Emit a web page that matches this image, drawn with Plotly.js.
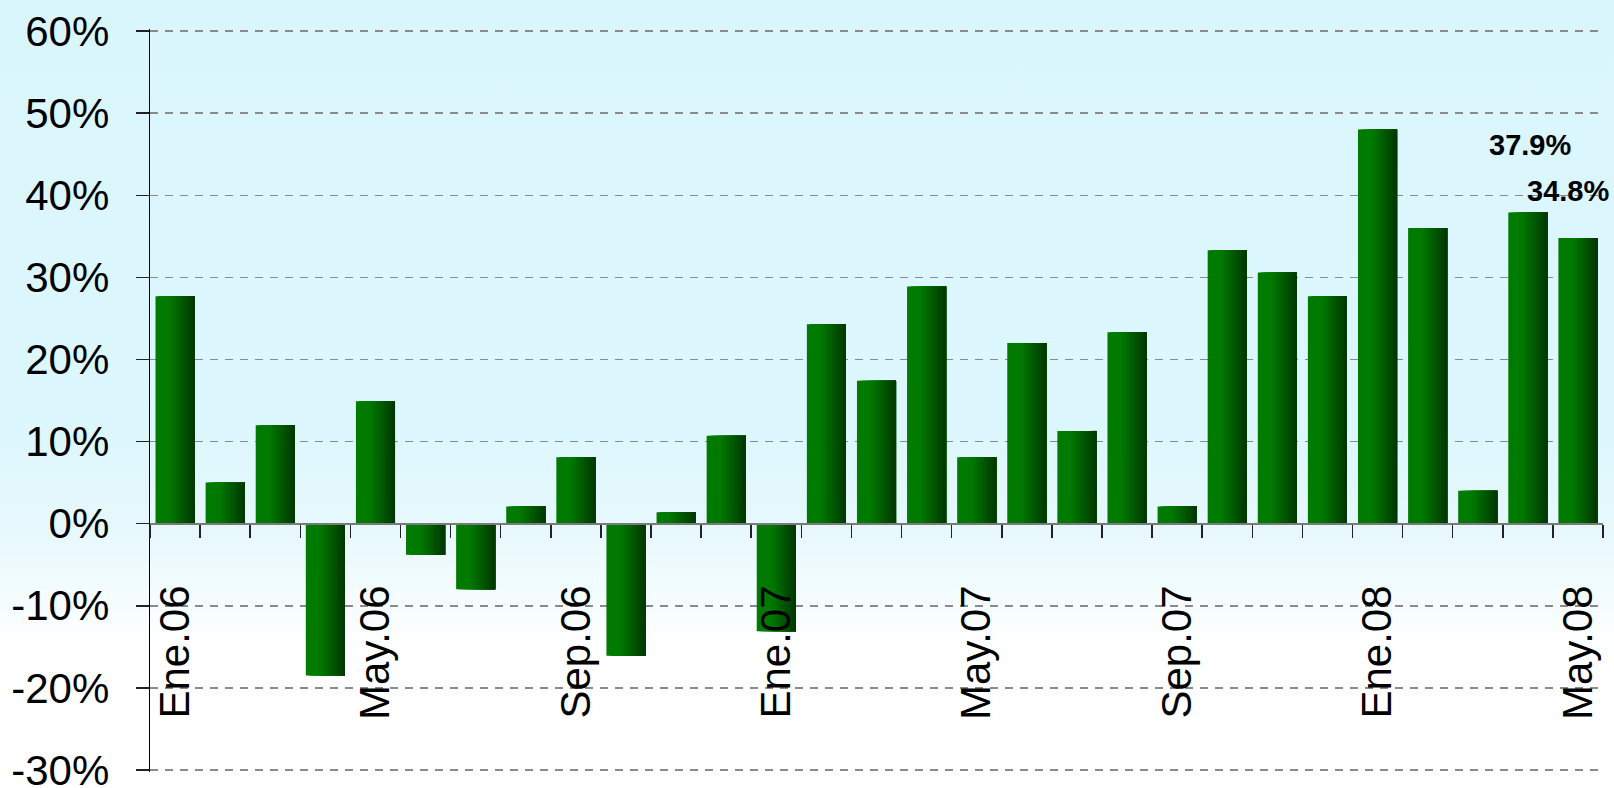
<!DOCTYPE html>
<html>
<head>
<meta charset="utf-8">
<script src="https://cdn.plot.ly/plotly-3.0.1.min.js"></script>
<style>
  html, body { margin: 0; padding: 0; }
  body {
    width: 1614px; height: 788px; overflow: hidden;
    background: linear-gradient(to bottom, #daf6fd 0px, #dcf7fd 430px, #e6f8fd 525px, #f3fcfe 590px, #ffffff 650px, #ffffff 788px);
  }
  #chart { width: 1614px; height: 788px; }
</style>
</head>
<body>
<div id="chart"></div>
<script>
// ---- data ----
const categories = [
  'Ene.06','Feb.06','Mar.06','Abr.06','May.06','Jun.06','Jul.06','Ago.06','Sep.06','Oct.06','Nov.06','Dic.06',
  'Ene.07','Feb.07','Mar.07','Abr.07','May.07','Jun.07','Jul.07','Ago.07','Sep.07','Oct.07','Nov.07','Dic.07',
  'Ene.08','Feb.08','Mar.08','Abr.08','May.08'
];
const values = [
  27.7, 5.0, 12.0, -18.5, 14.9, -3.8, -8.0, 2.1, 8.1, -16.1, 1.4, 10.7,
  -13.1, 24.3, 17.4, 28.9, 8.1, 22.0, 11.3, 23.3, 2.1, 33.3, 30.6, 27.7,
  48.0, 36.0, 4.0, 37.9, 34.8
];
const tickLabels = ['Ene.06','May.06','Sep.06','Ene.07','May.07','Sep.07','Ene.08','May.08'];
const yTicks = [-30, -20, -10, 0, 10, 20, 30, 40, 50, 60];
const labeledIdx = [27, 28];

// ---- styling ----
const yMin = -30.25, yMax = 60.25;
const barW = 0.78;
const N = 14;
function lerp(a, b, t) { return Math.round(a + (b - a) * t); }
function stripColor(t) {
  const c0 = [0, 122, 0], c1 = [0, 54, 0];
  let u = t < 0.35 ? 0 : (t - 0.35) / 0.65;
  return 'rgb(' + lerp(c0[0], c1[0], u) + ',' + lerp(c0[1], c1[1], u) + ',' + lerp(c0[2], c1[2], u) + ')';
}

const traces = [];
for (let i = 0; i < N; i++) {
  const start = -barW / 2 + i * barW / N;
  traces.push({
    type: 'bar',
    x: categories,
    y: values,
    offset: start,
    width: barW / 2 - start,
    marker: { color: stripColor((i + 0.5) / N), line: { width: 0 } },
    hoverinfo: i === 0 ? 'x+y' : 'skip',
    showlegend: false
  });
}

const font = 'Liberation Sans, Arial, sans-serif';

const annotations = labeledIdx.map((k, j) => ({
  x: categories[k],
  y: values[k],
  xref: 'x', yref: 'y',
  text: '<b>' + values[k].toFixed(1) + '%</b>',
  showarrow: false,
  xanchor: 'center', yanchor: 'middle',
  yshift: j === 0 ? 67 : 47,
  xshift: j === 0 ? 2 : -10,
  font: { family: font, size: 29, color: '#000' }
}));

const layout = {
  width: 1614, height: 788,
  margin: { l: 150, r: 11, t: 29, b: 16, pad: 0 },
  paper_bgcolor: 'rgba(0,0,0,0)',
  plot_bgcolor: 'rgba(0,0,0,0)',
  barmode: 'overlay',
  showlegend: false,
  font: { family: font, color: '#000' },
  xaxis: {
    type: 'category',
    range: [-0.5, categories.length - 0.5],
    anchor: 'free',
    position: (0 - yMin) / (yMax - yMin),
    showgrid: false,
    zeroline: false,
    showline: true,
    linecolor: '#7a7a7a',
    linewidth: 2,
    ticks: 'outside',
    tickson: 'boundaries',
    ticklen: 13,
    tickwidth: 1.5,
    tickcolor: '#222',
    tickvals: categories,
    ticktext: categories.map(c => tickLabels.includes(c) ? c : ''),
    tickangle: -90,
    ticklabelstandoff: 44,
    ticklabeloverflow: 'allow',
    tickfont: { family: font, size: 42, color: '#000' },
    automargin: false,
    fixedrange: true
  },
  yaxis: {
    range: [yMin, yMax],
    tickvals: yTicks,
    ticktext: yTicks.map(v => v + '%'),
    showgrid: true,
    gridcolor: '#8a8a8a',
    gridwidth: 1.5,
    griddash: '8px,7px',
    zeroline: false,
    showline: true,
    linecolor: '#000',
    linewidth: 1.3,
    ticks: 'outside',
    ticklen: 13,
    tickwidth: 1.5,
    tickcolor: '#222',
    ticklabelstandoff: 18,
    ticklabeloverflow: 'allow',
    tickfont: { family: font, size: 42, color: '#000' },
    automargin: false,
    fixedrange: true
  },
  annotations: annotations
};

Plotly.newPlot('chart', traces, layout, { displayModeBar: false, staticPlot: true });
</script>
</body>
</html>
